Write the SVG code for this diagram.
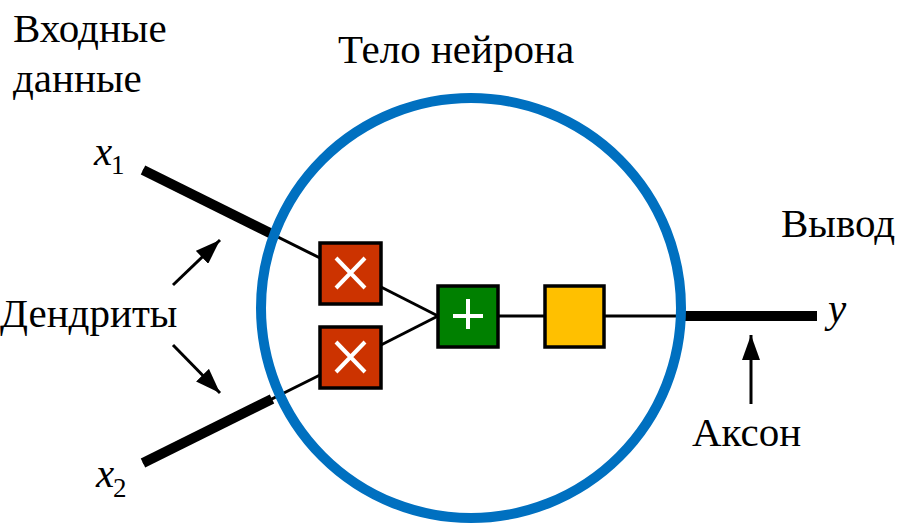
<svg xmlns="http://www.w3.org/2000/svg" width="898" height="529" viewBox="0 0 898 529">
<style>
text{font-family:'Liberation Serif','Times New Roman',serif;font-size:41px;fill:#000}
.it{font-style:italic}
.sub{font-size:27px}
.thick{stroke:#000;stroke-width:10;fill:none}
.thin{stroke:#000;stroke-width:3;fill:none}
.box{stroke:#000;stroke-width:3.5}
.sym{stroke:#fff;stroke-width:4;fill:none}
.arr{stroke:#000;stroke-width:3;fill:none}
</style>
<defs>
<marker id="ahb" viewBox="0 0 10 10" refX="10" refY="5" markerWidth="25" markerHeight="18" orient="auto" markerUnits="userSpaceOnUse" preserveAspectRatio="none">
<path d="M0,0 L10,5 L0,10 Z" fill="#000"/>
</marker>
</defs>
<g id="connectors">
<line class="thin" x1="143" y1="170" x2="320" y2="258"/>
<line class="thick" x1="143" y1="170" x2="272" y2="234"/>
<line class="thin" x1="143" y1="463" x2="320" y2="375"/>
<line class="thick" x1="143" y1="463" x2="272" y2="399"/>
<line class="thin" x1="381" y1="287" x2="438" y2="316"/>
<line class="thin" x1="381" y1="345" x2="438" y2="316"/>
<line class="thin" x1="498" y1="316" x2="545" y2="316"/>
<line class="thin" x1="604" y1="316" x2="680" y2="316"/>
<line class="thick" x1="680" y1="316" x2="817" y2="316"/>
<line class="arr" x1="173" y1="285" x2="220" y2="240" marker-end="url(#ahb)"/>
<line class="arr" x1="173" y1="345" x2="220" y2="393" marker-end="url(#ahb)"/>
<line class="arr" x1="751" y1="404" x2="751" y2="335" marker-end="url(#ahb)"/>
</g>
<g id="neuron-body">
<circle cx="471" cy="308" r="210" fill="none" stroke="#0070C0" stroke-width="10"/>
</g>
<g id="mult1">
<rect class="box" x="320" y="243" width="61" height="61" fill="#CC3300"/>
<path class="sym" d="M336,258 L365,288 M365,258 L336,288"/>
</g>
<g id="mult2">
<rect class="box" x="320" y="327" width="61" height="61" fill="#CC3300"/>
<path class="sym" d="M336,342 L365,372 M365,342 L336,372"/>
</g>
<g id="sum">
<rect class="box" x="438" y="286" width="60" height="61" fill="#008000"/>
<path class="sym" d="M453,316 L483,316 M468,299 L468,329"/>
</g>
<g id="activation">
<rect class="box" x="545" y="286" width="59" height="61" fill="#FFC000"/>
</g>
<g id="labels">
<text x="13" y="42">Входные</text>
<text x="13" y="92">данные</text>
<text x="338" y="63">Тело нейрона</text>
<text x="0" y="327">Дендриты</text>
<text x="781" y="237">Вывод</text>
<text x="692" y="446">Аксон</text>
<text class="it" x="94" y="165">x</text><text class="sub" x="111" y="174">1</text>
<text class="it" x="96" y="487">x</text><text class="sub" x="113" y="497">2</text>
<text class="it" x="828" y="322">y</text>
</g>
</svg>
